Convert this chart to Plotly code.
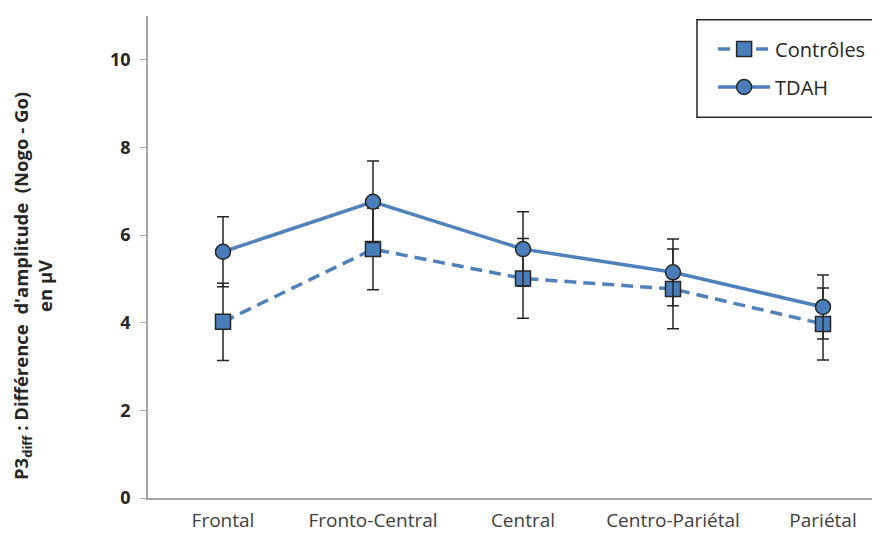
import plotly.graph_objects as go

categories = ["Frontal", "Fronto-Central", "Central", "Centro-Pariétal", "Pariétal"]
controles = [4.02, 5.68, 5.01, 4.77, 3.97]
controles_err = [0.88, 0.93, 0.91, 0.91, 0.82]
tdah = [5.62, 6.76, 5.68, 5.15, 4.36]
tdah_err = [0.80, 0.93, 0.85, 0.76, 0.73]
y_ticks = [0, 2, 4, 6, 8, 10]

blue_line = "#4f81bd"
blue_fill = "#4a7ebb"
dark = "#262626"
font_family = "Open Sans, Liberation Sans, sans-serif"

fig = go.Figure()
fig.add_trace(go.Scatter(
    x=categories, y=controles, name="Contrôles", mode="lines+markers",
    legendgroup="c",
    line=dict(color=blue_line, width=3.5, dash="12px,7px"),
    marker=dict(symbol="square", size=15, color=blue_fill, line=dict(color=dark, width=1.5)),
    error_y=dict(type="data", array=controles_err, color=dark, thickness=1.5, width=6),
))
fig.add_trace(go.Scatter(
    x=categories, y=tdah, name="TDAH", mode="lines+markers",
    legendgroup="t",
    line=dict(color=blue_line, width=3.5),
    marker=dict(symbol="circle", size=15, color=blue_fill, line=dict(color=dark, width=1.5)),
    error_y=dict(type="data", array=tdah_err, color=dark, thickness=1.5, width=6),
))

fig.update_layout(
    width=880, height=536,
    margin=dict(l=140, r=8, t=8, b=46, autoexpand=False),
    paper_bgcolor="white", plot_bgcolor="white",
    font=dict(family=font_family, color="#404040", size=16),
    showlegend=True,
    legend=dict(x=0.772, y=0.972, xanchor="left", yanchor="top",
                bgcolor="rgba(0,0,0,0)", borderwidth=0, itemwidth=52,
                font=dict(size=20, color="#262626"), tracegroupgap=9),
    xaxis=dict(range=[-0.5, 4.38], showline=True, linecolor="#a6a6a6", linewidth=1.5,
               ticks="", showgrid=False, zeroline=False, automargin=False,
               ticklabelstandoff=4,
               tickfont=dict(size=19, color="#404040")),
    yaxis=dict(range=[0, 11], tickvals=y_ticks, showline=True, linecolor="#a6a6a6",
               linewidth=1.5, ticks="outside", ticklen=6, tickcolor="#a6a6a6",
               showgrid=False, zeroline=False, automargin=False,
               ticklabelstandoff=6,
               tickfont=dict(size=18, color="#262626", weight="bold")),
    shapes=[dict(type="rect", xref="paper", yref="paper", x0=0.75, x1=1.2, y0=0.79, y1=0.992,
                 line=dict(color="#262626", width=1.5), fillcolor="rgba(0,0,0,0)")],
    annotations=[dict(
        text="<b>P3<sub>diff</sub> : Différence  d'amplitude  (Nogo - Go)<br>en µV</b>",
        xref="paper", yref="paper", x=-0.157, y=0.44, xanchor="center", yanchor="middle",
        textangle=-90, showarrow=False, font=dict(size=18.5, color="#262626"))],
)

fig.write_html("out.html")
